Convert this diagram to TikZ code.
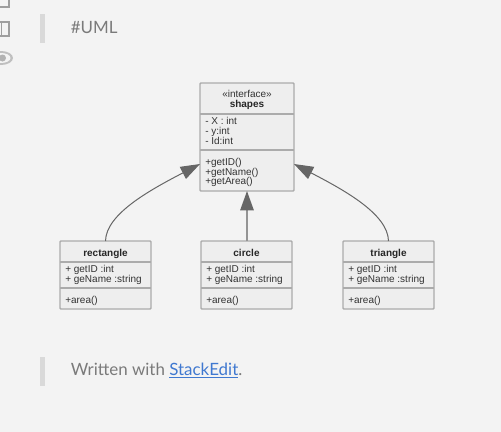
\documentclass[tikz,border=0pt]{standalone}
\usepackage{fontspec}
\usepackage{xcolor}
\setmainfont{Liberation Sans}
\newfontfamily\notefont{Lato}
\usetikzlibrary{arrows.meta}
\definecolor{PageGray}{HTML}{F3F3F3}
\definecolor{BoxGray}{HTML}{EEEEEE}
\definecolor{EdgeGray}{HTML}{ABABAB}
\definecolor{LineGray}{HTML}{666666}
\definecolor{NoteGray}{HTML}{7A7A7A}
\definecolor{BarGray}{HTML}{D9D9D9}
\definecolor{LinkBlue}{HTML}{3F78D0}
\tikzset{
  classbox/.style = {draw = EdgeGray, fill = BoxGray, line width = 1.1pt, rounded corners = 0.6pt, inner sep = 0, outer sep = 0, anchor = north west},
  member/.style = {anchor = base west, inner sep = 0, font = \fontsize{7.5}{7.5}\selectfont, text = black!80},
  title/.style = {anchor = base, inner sep = 0, font = \fontsize{7.5}{7.5}\selectfont\bfseries, text = black!85},
  note/.style = {anchor = base west, inner sep = 0, font = \notefont\fontsize{12.7}{12.7}\selectfont, text = NoteGray},
  extends/.style = {draw = LineGray, line width = 0.75pt, -{Triangle[length = 14.5pt, width = 10pt, fill = LineGray, color = LineGray]}},
  icon/.style = {draw = black!38, line width = 1.3pt}
}
\begin{document}
\begin{tikzpicture}[x = 0.75pt, y = -0.75pt]
  \fill [fill = PageGray] (0, 0) rectangle (501, 432);
  \useasboundingbox (0, 0) rectangle (501, 432);
  % margin icons
  \draw [icon] (-2, -3) rectangle (9, 7);
  \draw [icon] (-2, 22) rectangle (9, 36);
  \draw [icon] (1.5, 22) -- (1.5, 36);
  \fill [fill = black!25] (1, 58) ellipse (12 and 7);
  \fill [fill = PageGray] (1, 58) ellipse (9.5 and 5);
  \fill [fill = black!30] (2.5, 58) circle (3.5);
  % notes
  \foreach \y in {14, 357}
  \fill [fill = BarGray] (40, \y) rectangle (45, \y+29);
  \node [note] (heading) at (70.5, 33) {\#UML};
  \node [note] (footer) at (70.5, 375.5) {Written with \textcolor{LinkBlue}{\underline{StackEdit}}.};
  % interface
  \node [classbox, minimum width = 70.5pt, minimum height = 81pt] (shapes) at (200, 83) {};
  \draw [draw = EdgeGray, line width = 1.1pt] (200, 114) -- (294, 114);
  \draw [draw = EdgeGray, line width = 1.1pt] (200, 150) -- (294, 150);
  \node [member, anchor = base] (stereotype) at (247, 98) {«interface»};
  \node [title] (shapesname) at (247, 108) {shapes};
  \node [member] (attrx) at (205, 124) {- X : int};
  \node [member] (attry) at (205, 134) {- y:int};
  \node [member] (attrid) at (205, 144) {- Id:int};
  \node [member] (getid) at (205, 165) {+getID()};
  \node [member] (getname) at (205, 175) {+getName()};
  \node [member] (getarea) at (205, 185) {+getArea()};
  \coordinate (shapesleft) at (200, 164);
  \coordinate (shapesright) at (294, 164);
  % subclasses
  \foreach \name/\x in {rectangle/60, circle/201, triangle/343}
  {\node [classbox, minimum width = 68.25pt, minimum height = 51pt] (\name) at (\x, 241) {};
  \draw [draw = EdgeGray, line width = 1.1pt] (\x, 262) -- (\x+91, 262);
  \draw [draw = EdgeGray, line width = 1.1pt] (\x, 288) -- (\x+91, 288);
  \node [title] (\name title) at (\x+45.5, 256) {\name};
  \node [member] (\name id) at (\x+5, 272) {+ getID :int};
  \node [member] (\name ge) at (\x+5, 282) {+ geName :string};
  \node [member] (\name area) at (\x+5, 303) {+area()};}
  % inheritance
  \draw [extends] (rectangle.north) .. controls (106, 214) and (150, 190) .. (shapesleft);
  \draw [extends, draw = LineGray!70, line width = 1.3pt] (shapes.south |- circle.north) -- (shapes.south);
  \draw [extends] (triangle.north) .. controls (388, 214) and (344, 190) .. (shapesright);
\end{tikzpicture}
\end{document}
